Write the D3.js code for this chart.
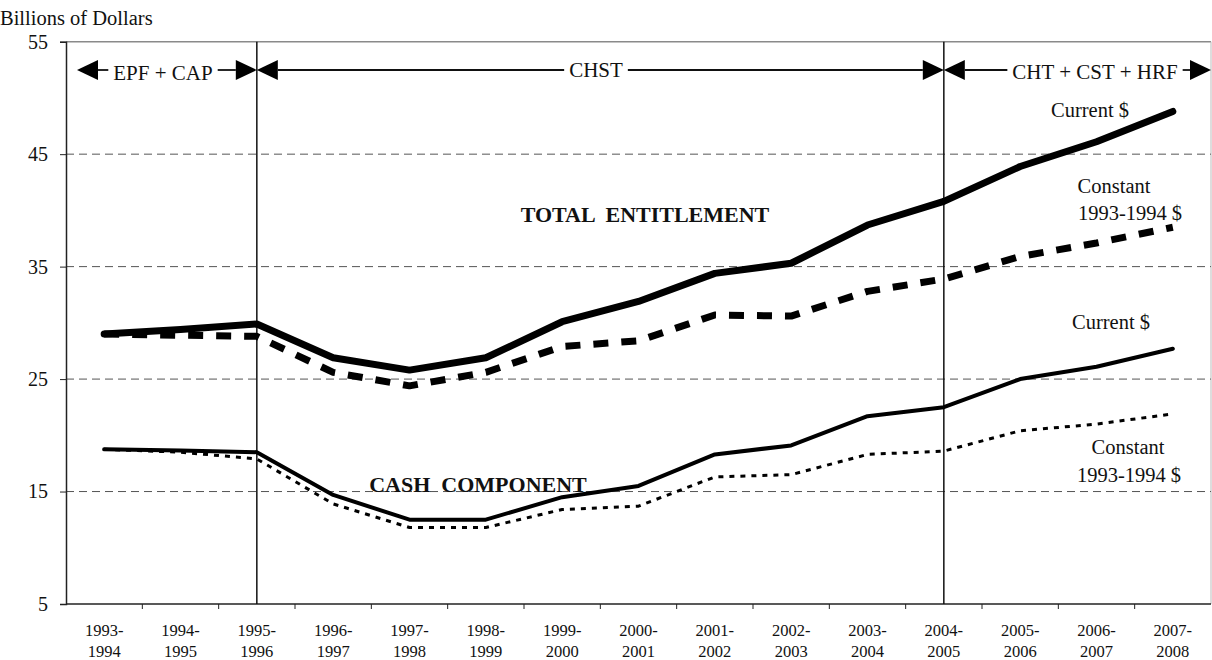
<!DOCTYPE html>
<html>
<head>
<meta charset="utf-8">
<script src="https://cdn.jsdelivr.net/npm/d3@7"></script>
<style>
  html, body { margin: 0; padding: 0; background: #fff; }
  svg { display: block; }
  svg text { font-family: "Liberation Serif", "Times New Roman", serif; }
</style>
</head>
<body>
<svg id="chart" width="1212" height="660" font-family="Liberation Serif, serif"></svg>
<script>
// ---------- data ----------
const categories = ["1993-1994","1994-1995","1995-1996","1996-1997","1997-1998","1998-1999","1999-2000",
  "2000-2001","2001-2002","2002-2003","2003-2004","2004-2005","2005-2006","2006-2007","2007-2008"];
const totalCurrent  = [29.0, 29.4, 29.9, 26.9, 25.8, 26.9, 30.1, 31.9, 34.4, 35.3, 38.7, 40.8, 43.9, 46.1, 48.8];
const totalConstant = [29.0, 28.9, 28.8, 25.6, 24.4, 25.6, 27.9, 28.4, 30.7, 30.6, 32.8, 33.9, 35.9, 37.1, 38.5];
const cashCurrent   = [18.75, 18.65, 18.5, 14.7, 12.5, 12.5, 14.5, 15.5, 18.3, 19.1, 21.7, 22.5, 25.0, 26.1, 27.7];
const cashConstant  = [18.75, 18.5, 17.9, 13.9, 11.8, 11.8, 13.4, 13.7, 16.3, 16.5, 18.3, 18.6, 20.4, 21.0, 21.9];
const yTicks = [5, 15, 25, 35, 45, 55];
const periodBoundaries = ["1995-1996", "2004-2005"];
const periodLabels = ["EPF + CAP", "CHST", "CHT + CST + HRF"];

// ---------- layout ----------
const svg = d3.select("#chart");
const pLeft = 66, pRight = 1211, pTop = 41.7, pBottom = 604;

const x = d3.scaleBand().domain(categories).range([pLeft, pRight]).paddingInner(0).paddingOuter(0);
const cx = c => x(c) + x.bandwidth() / 2;
const y = d3.scaleLinear().domain([5, 55]).range([pBottom, pTop]);

// plot border (top/right light gray)
svg.append("line").attr("x1", pLeft).attr("x2", pRight).attr("y1", pTop).attr("y2", pTop)
  .attr("stroke", "#8a8a8a").attr("stroke-width", 1.5);
svg.append("line").attr("x1", pRight).attr("x2", pRight).attr("y1", pTop).attr("y2", pBottom)
  .attr("stroke", "#bbb").attr("stroke-width", 1);

// gridlines
svg.append("g").selectAll("line").data(yTicks.filter(t => t > 5 && t < 55)).join("line")
  .attr("x1", pLeft).attr("x2", pRight)
  .attr("y1", d => y(d)).attr("y2", d => y(d))
  .attr("stroke", "#555").attr("stroke-width", 1).attr("stroke-dasharray", "8,5");

// y axis
const yAxis = d3.axisLeft(y).tickValues(yTicks).tickSize(6).tickPadding(12).tickFormat(d3.format("d"));
const gy = svg.append("g").attr("transform", `translate(${pLeft},0)`).call(yAxis)
  .attr("font-family", "Liberation Serif, serif");
gy.select(".domain").attr("stroke", "#222").attr("stroke-width", 1.5);
gy.selectAll(".tick line").attr("stroke", "#222");
gy.selectAll(".tick text").attr("font-size", 20).attr("fill", "#111");

// x axis (ticks at band edges, labels at centers)
svg.append("line").attr("x1", pLeft).attr("x2", pRight).attr("y1", pBottom).attr("y2", pBottom)
  .attr("stroke", "#222").attr("stroke-width", 1.5);
svg.append("g").selectAll("line").data(categories.slice(1)).join("line")
  .attr("x1", d => x(d)).attr("x2", d => x(d))
  .attr("y1", pBottom).attr("y2", pBottom + 5)
  .attr("stroke", "#222").attr("stroke-width", 1);
const xl = svg.append("g").selectAll("text").data(categories).join("text")
  .attr("x", d => cx(d)).attr("text-anchor", "middle")
  .attr("font-size", 16.5).attr("fill", "#111");
xl.append("tspan").attr("x", d => cx(d)).attr("y", 636).text(d => d.split("-")[0] + "-");
xl.append("tspan").attr("x", d => cx(d)).attr("y", 657).text(d => d.split("-")[1]);

// y title
svg.append("text").attr("x", 0).attr("y", 25).attr("font-size", 20.5).attr("fill", "#111")
  .text("Billions of Dollars");

// period separators
svg.append("g").selectAll("line").data(periodBoundaries).join("line")
  .attr("x1", d => cx(d)).attr("x2", d => cx(d))
  .attr("y1", pTop).attr("y2", pBottom)
  .attr("stroke", "#111").attr("stroke-width", 1.5);

// period arrows
const arrowY = 70;
const segs = [
  {label: periodLabels[0], x0: pLeft + 11, x1: cx(periodBoundaries[0]), tx: 163, ty: 80},
  {label: periodLabels[1], x0: cx(periodBoundaries[0]), x1: cx(periodBoundaries[1]), tx: 596, ty: 77},
  {label: periodLabels[2], x0: cx(periodBoundaries[1]), x1: pRight, tx: 1095, ty: 79}
];
const ah = 21, aw = 10;
const ga = svg.append("g");
segs.forEach(s => {
  const t = ga.append("text").attr("x", s.tx).attr("y", s.ty).attr("text-anchor", "middle")
    .attr("font-size", 21).attr("fill", "#111").text(s.label);
  const w = t.node().getComputedTextLength();
  const g1 = s.tx - w / 2 - 5, g2 = s.tx + w / 2 + 5;
  ga.append("line").attr("x1", s.x0 + ah).attr("x2", g1).attr("y1", arrowY).attr("y2", arrowY)
    .attr("stroke", "#111").attr("stroke-width", 1.8);
  ga.append("line").attr("x1", g2).attr("x2", s.x1 - ah).attr("y1", arrowY).attr("y2", arrowY)
    .attr("stroke", "#111").attr("stroke-width", 1.8);
  ga.append("path").attr("d", `M${s.x0},${arrowY} L${s.x0 + ah},${arrowY - aw} L${s.x0 + ah},${arrowY + aw} Z`).attr("fill", "#000");
  ga.append("path").attr("d", `M${s.x1},${arrowY} L${s.x1 - ah},${arrowY - aw} L${s.x1 - ah},${arrowY + aw} Z`).attr("fill", "#000");
});

// series lines
const line = d3.line().x((d, i) => cx(categories[i])).y(d => y(d));
const series = [
  {values: totalConstant, width: 7, dash: "15,13", cap: "butt"},
  {values: totalCurrent, width: 7, dash: null, cap: "round"},
  {values: cashConstant, width: 3, dash: "5,6", cap: "butt"},
  {values: cashCurrent, width: 4, dash: null, cap: "round"}
];
svg.append("g").selectAll("path").data(series).join("path")
  .attr("d", d => line(d.values))
  .attr("fill", "none").attr("stroke", "#000")
  .attr("stroke-width", d => d.width)
  .attr("stroke-dasharray", d => d.dash)
  .attr("stroke-linecap", d => d.cap)
  .attr("stroke-linejoin", "round");

// annotations
const ann = svg.append("g").attr("fill", "#111");
ann.append("text").attr("x", 645).attr("y", 222).attr("text-anchor", "middle")
  .attr("font-size", 22).attr("font-weight", "bold").style("white-space", "pre").text("TOTAL  ENTITLEMENT");
ann.append("text").attr("x", 478).attr("y", 492).attr("text-anchor", "middle")
  .attr("font-size", 22).attr("font-weight", "bold").style("white-space", "pre").text("CASH  COMPONENT");
ann.append("text").attr("x", 1090).attr("y", 117).attr("text-anchor", "middle").attr("font-size", 20.5).text("Current $");
ann.append("text").attr("x", 1114).attr("y", 193).attr("text-anchor", "middle").attr("font-size", 20.5).text("Constant");
ann.append("text").attr("x", 1130).attr("y", 220).attr("text-anchor", "middle").attr("font-size", 20.5).text("1993-1994 $");
ann.append("text").attr("x", 1111).attr("y", 329).attr("text-anchor", "middle").attr("font-size", 20.5).text("Current $");
ann.append("text").attr("x", 1128).attr("y", 454).attr("text-anchor", "middle").attr("font-size", 20.5).text("Constant");
ann.append("text").attr("x", 1129).attr("y", 482).attr("text-anchor", "middle").attr("font-size", 20.5).text("1993-1994 $");
</script>
</body>
</html>
